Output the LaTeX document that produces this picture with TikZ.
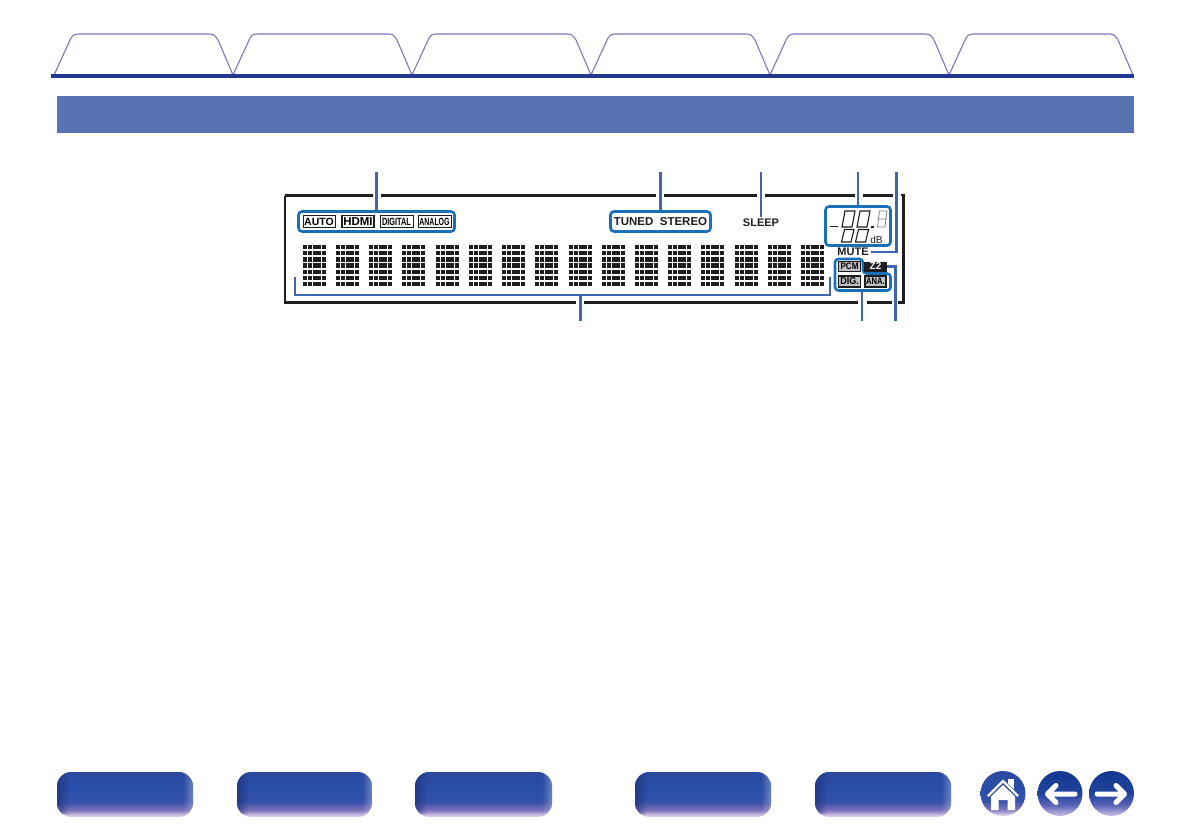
\documentclass[tikz,border=0pt]{standalone}
\usepackage{fontspec}
\setmainfont{Liberation Sans}
\usetikzlibrary{calc,fadings}
\definecolor{tabLine}{RGB}{122, 118, 184}
\definecolor{ruleBlue}{RGB}{33, 56, 143}
\definecolor{barBlue}{RGB}{88, 114, 178}
\definecolor{leaderBlue}{RGB}{62, 103, 174}
\definecolor{boxBlue}{RGB}{26, 112, 184}
\definecolor{lcdInk}{RGB}{30, 30, 33}
\definecolor{lcdGrey}{RGB}{190, 192, 196}
\definecolor{btnPale}{RGB}{232, 224, 240}
\definecolor{btnLilac}{RGB}{120, 112, 184}
\definecolor{btnMid}{RGB}{56, 80, 170}
\definecolor{btnCore}{RGB}{42, 78, 166}
\definecolor{btnTop}{RGB}{44, 74, 160}
\definecolor{roundPale}{RGB}{205, 195, 228}
\definecolor{roundMid}{RGB}{92, 100, 184}
\definecolor{roundCore}{RGB}{32, 68, 156}
\definecolor{roundTop}{RGB}{22, 54, 144}
\definecolor{homeBlue}{RGB}{48, 76, 164}
\pgfdeclareverticalshading{btnShade}{100bp}{color(0bp)=(btnPale); color(25bp)=(btnPale); color(33bp)=(btnLilac); color(42bp)=(btnMid); color(55bp)=(btnCore); color(75bp)=(btnTop); color(100bp)=(btnTop)}
\pgfdeclareverticalshading{roundShade}{100bp}{color(0bp)=(roundPale); color(25bp)=(roundPale); color(37bp)=(roundMid); color(50bp)=(roundCore); color(75bp)=(roundTop); color(100bp)=(roundTop)}
\tikzset{
  leader/.style={leaderBlue, line width=2.2},
  callout/.style={draw=boxBlue, line width=2.6, rounded corners=3.5, inner sep=0},
  flag/.style={draw=lcdInk, line width=1, fill=white, inner sep=0, minimum height=11.5, font=\bfseries\fontsize{10.5}{10.5}\selectfont},
  greyflag/.style={flag, fill=lcdGrey, line width=1.2},
  label/.style={font=\bfseries\fontsize{11}{11}\selectfont, text=lcdInk, inner sep=1.5},
  seg/.style={lcdInk, line width=1.1},
}
\begin{document}
\begin{tikzpicture}[x=1pt,y=-1pt]
  \useasboundingbox (0,0) rectangle (1191,839);
  % tabs
  \foreach \a/\b in {54/233,233/412,412/591,591/770,770/949,949/1133}
    \draw[tabLine, line width=1.1, line join=round] (\a,75)
      -- ($(\a,75)+(17,-37)$) .. controls ($(\a,75)+(20,-41)$) .. ($(\a,75)+(28,-41)$)
      -- ($(\b,75)+(-27,-41)$) .. controls ($(\b,75)+(-19,-41)$) .. ($(\b,75)+(-15,-35)$) -- (\b,75);
  \fill[ruleBlue] (51,74) rectangle (1134,78);
  \fill[barBlue] (57,96) rectangle (1134,133);
  % display frame
  \foreach \xa/\xb in {373/285,381/656,664/757,765/855,863/893}
    \draw[lcdInk, line width=2.6] (\xa,195.5) -- (\xb,195.5);
  \draw[lcdInk, line width=2.6] (285,195.5) -- (285,302.5) -- (576,302.5);
  \foreach \xa/\xb in {584/858,867/892}
    \draw[lcdInk, line width=2.6] (\xa,302.5) -- (\xb,302.5);
  \draw[lcdInk, line width=2.6] (898,302.5) -- (903.5,302.5) -- (903.5,195) -- (901,195);
  % dot matrix
  \foreach \cx in {303,336,369,402,436,469,502,535,569,602,635,668,701,735,768,801}
    \foreach \col in {0,...,4}
      \foreach \row in {0,...,6}
        \fill[lcdInk] ($(\cx,244.7)+(\col*4.8,\row*6.2)$) rectangle ++(3.9,4.4);
  % source flags
  \node[callout, minimum width=156, minimum height=20] (srcbox) at (376.5,221.5) {};
  \node[flag, minimum width=32] (auto) at (319,221.5) {AUTO};
  \node[flag, minimum width=32, line width=1.3] (hdmi) at (358,221.5) {\fontsize{11.5}{11.5}\selectfont HDMI};
  \node[flag, minimum width=33] (digital) at (396.5,221.5) {\scalebox{0.7}[1]{DIGITAL}};
  \node[flag, minimum width=33] (analog) at (434.5,221.5) {\scalebox{0.66}[1]{ANALOG}};
  % tuner and sleep
  \node[callout, minimum width=100, minimum height=20] (tunedbox) at (660.5,221.5) {\bfseries\fontsize{11.5}{11.5}\selectfont\textcolor{lcdInk}{TUNED\ \ STEREO}};
  \node[label] (sleep) at (761,222.5) {SLEEP};
  % level readout
  \node[callout, minimum width=65, minimum height=39] (levelbox) at (858,226) {};
  \draw[seg, line width=1.8] (830,226.5) -- (838,226.5);
  \foreach \sx/\sy/\sw/\sh in {842/211/10/16,857/211/10/16,841.5/229.5/9.5/12.5,855.5/229.5/10/12.5}
    \draw[seg] (\sx,\sy+\sh) -- (\sx+3,\sy) -- (\sx+3+\sw,\sy) -- (\sx+\sw,\sy+\sh) -- cycle;
  \draw[lcdGrey!70!black, line width=0.8] (877.5,227) -- (879.5,211) -- (887,211) -- (885,227) -- cycle
    (878.5,219) -- (886,219);
  \fill[lcdInk] (871,225.5) rectangle (873.5,228);
  \node[inner sep=0, font=\fontsize{10}{10}\selectfont, text=lcdInk] (db) at (876.5,240) {dB};
  \node[label, inner sep=2] (mute) at (853,252) {MUTE};
  % input flags
  \draw[callout] (835,259) -- (863,259) -- (863,273.5) -- (890.5,273.5) -- (890.5,290.5) -- (835,290.5) -- cycle;
  \coordinate (inbox) at (862,290.5);
  \node[greyflag, minimum width=22, minimum height=10.5, font=\bfseries\fontsize{9.5}{9.5}\selectfont] (pcm) at (849.5,266.5) {\scalebox{0.85}[1]{PCM}};
  \node[fill=lcdInk, text=white, inner sep=0, minimum width=23, minimum height=10, font=\bfseries\fontsize{10}{10}\selectfont] (z2) at (875.5,266.5) {Z2};
  \node[greyflag, minimum width=22, minimum height=11, font=\bfseries\fontsize{10}{10}\selectfont] (dig) at (849.5,281.5) {\scalebox{0.9}[1]{DIG.}};
  \node[greyflag, minimum width=21, minimum height=11, font=\bfseries\fontsize{9.5}{9.5}\selectfont] (ana) at (875.5,281.5) {\scalebox{0.8}[1]{ANA.}};
  % leaders
  \coordinate (srctop) at (srcbox.north |- 0,172);
  \coordinate (tunedtop) at (tunedbox.north |- 0,172);
  \coordinate (sleeptop) at (sleep.north |- 0,172);
  \coordinate (leveltop) at (levelbox.north |- 0,172);
  \coordinate (mutetop) at (896.5,172);
  \coordinate (z2end) at (895.5,321);
  \coordinate (inend) at (inbox |- 0,321);
  \coordinate (textend) at (580.5,321);
  \coordinate (braceleft) at (295,277);
  \coordinate (braceright) at (830,277);
  \draw[leader] (srctop) -- (srcbox.north);
  \draw[leader] (tunedtop) -- (tunedbox.north);
  \draw[leader] (sleeptop) -- (sleep.north);
  \draw[leader] (leveltop) -- (levelbox.north);
  \draw[leader] (mutetop) |- (mute.east);
  \draw[leader] (z2.east) -| (z2end);
  \draw[leader] (inbox) -- (inend);
  \draw[leader] (braceleft) |- (textend |- 0,295) -| (braceright);
  \draw[leader] (textend |- 0,295) -- (textend);
  % bottom buttons
  \foreach \xa/\xb in {57/193,237/372,415/552,635/771,815/951} {
    \shade[shading=btnShade, rounded corners=14] (\xa,772) rectangle (\xb,817);
    \begin{scope}
      \clip[rounded corners=14] (\xa,772) rectangle (\xb,817);
      \fill[ruleBlue!80!black, path fading=east, opacity=0.6] (\xa,772) rectangle ++(12,42);
      \fill[white, path fading=west, opacity=0.3] (\xb,772) rectangle ++(-10,42);
    \end{scope}
  }
  \shade[shading=btnShade] (1003,793.5) circle (22.5);
  \foreach \cx in {1060,1111.5}
    \shade[shading=roundShade] (\cx,793.5) circle (22.5);
  % home icon
  \fill[white] (1008,779) rectangle (1014,790);
  \fill[homeBlue] (1007,783) -- (1002,778) -- (985,796) -- (1021,796) -- cycle;
  \draw[white, line width=2.2, line join=miter] (988,796) -- (1003,781) -- (1018,796);
  \fill[white] (991,796.5) -- (1003,785) -- (1015,796.5) -- (1015,810) -- (1007.5,810) -- (1007.5,800) -- (998.5,800) -- (998.5,810) -- (991,810) -- cycle;
  % arrows
  \draw[white, line width=5, line cap=round, line join=round] (1075,794) -- (1048,794) (1056,785.5) -- (1047.5,794) -- (1056,802.5);
  \draw[white, line width=5, line cap=round, line join=round] (1097,794) -- (1124,794) (1116,785.5) -- (1124.5,794) -- (1116,802.5);
\end{tikzpicture}
\end{document}
